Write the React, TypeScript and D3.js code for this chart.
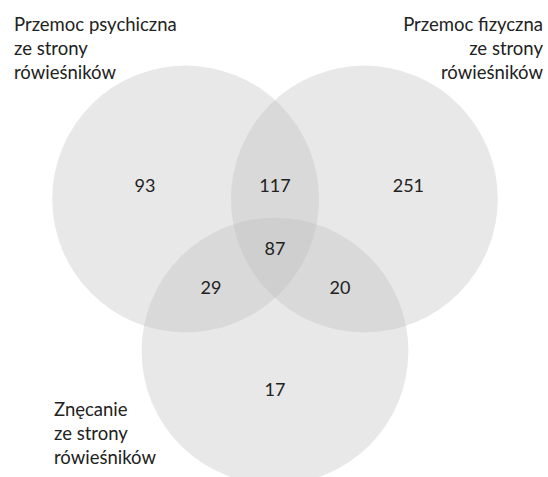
import React from "react";
import * as d3 from "d3";

// Sets (circles) in abstract venn units
const setNames = ["psych", "fiz", "znec"];
const setCx = [-0.67, 0.67, 0];
const setCy = [0, 0, 1.14];
const setR = [1, 1, 1];
const setLabelLines = [
  ["Przemoc psychiczna", "ze strony", "rówieśników"],
  ["Przemoc fizyczna", "ze strony", "rówieśników"],
  ["Znęcanie", "ze strony", "rówieśników"],
];

// Region counts
const regionValues = [93, 117, 251, 87, 29, 20, 17];
const regionX = [-0.975, 0, 1.0, 0, -0.48, 0.487, 0];
const regionY = [-0.1, -0.1, -0.1, 0.375, 0.667, 0.667, 1.432];

const W = 548;
const H = 477;

export default function App() {
  const unit = 133.4;
  const x = d3.scaleLinear().domain([0, 1]).range([275, 275 + unit]);
  const y = d3.scaleLinear().domain([0, 1]).range([199, 199 + unit]);

  const fontFamily = "Lato, 'Open Sans', sans-serif";
  const labelAnchors = [
    { x: 14, y: 31, anchor: "start" },
    { x: 543, y: 31, anchor: "end" },
    { x: 54, y: 416, anchor: "start" },
  ];

  return (
    <svg
      width={W}
      height={H}
      style={{ position: "absolute", left: 0, top: 0, display: "block" }}
    >
      <rect width={W} height={H} fill="#ffffff" />
      <g>
        {setNames.map((n, i) => (
          <circle
            key={n}
            cx={x(setCx[i])}
            cy={y(setCy[i])}
            r={x(setR[i]) - x(0)}
            fill="rgb(190,190,190)"
            fillOpacity={0.35}
          />
        ))}
      </g>
      <g fontFamily={fontFamily} fontSize={18} fill="#222">
        {regionValues.map((v, i) => (
          <text key={i} x={x(regionX[i])} y={y(regionY[i])} textAnchor="middle" dy="0.35em">
            {v}
          </text>
        ))}
      </g>
      <g fontFamily={fontFamily} fontSize={18.5} fill="#222">
        {setLabelLines.map((lines, i) => (
          <text key={i} textAnchor={labelAnchors[i].anchor as any}>
            {lines.map((l, j) => (
              <tspan key={j} x={labelAnchors[i].x} y={labelAnchors[i].y + j * 24}>
                {l}
              </tspan>
            ))}
          </text>
        ))}
      </g>
    </svg>
  );
}
